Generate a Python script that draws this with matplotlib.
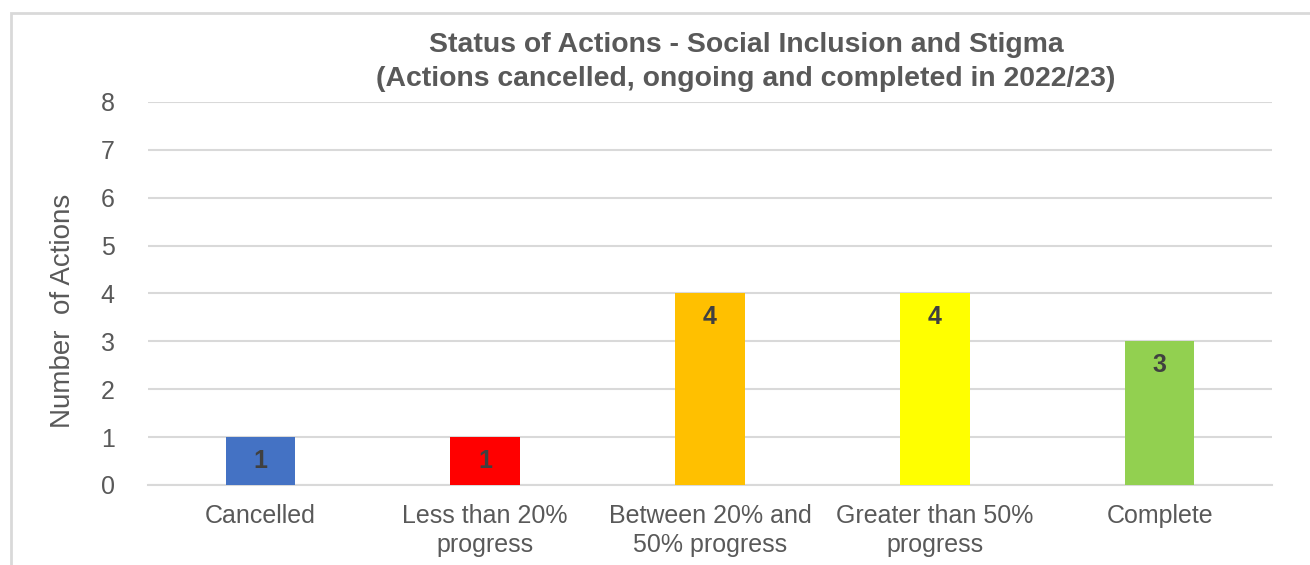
import matplotlib
matplotlib.use('Agg')
import matplotlib.pyplot as plt
from matplotlib.patches import Rectangle

plt.rcParams['font.family'] = ['Liberation Sans', 'DejaVu Sans']

categories = ['Cancelled', 'Less than 20%\nprogress', 'Between 20% and\n50% progress',
              'Greater than 50%\nprogress', 'Complete']
counts = [1, 1, 4, 4, 3]
bar_colors = ['#4472C4', '#FF0000', '#FFC000', '#FFFF00', '#92D050']
title = 'Status of Actions - Social Inclusion and Stigma\n(Actions cancelled, ongoing and completed in 2022/23)'

fig = plt.figure(figsize=(13.1, 5.65), dpi=100)
ax = fig.add_axes([0.113, 0.1416, 0.858, 0.678])

# chart frame (cut off on the right and bottom in the original)
fig.patches.append(Rectangle((11/1310, -0.1), 1.2, 1.1 - 13/565, transform=fig.transFigure,
                             fill=False, edgecolor='#d9d9d9', linewidth=2, zorder=0))

x = range(len(categories))
bars = ax.bar(x, counts, width=0.31, color=bar_colors, zorder=3)

for b, v in zip(bars, counts):
    ax.text(b.get_x() + b.get_width()/2, v - 0.5, str(v), ha='center', va='center',
            fontsize=18, fontweight='bold', color='#404040', zorder=4)

ax.set_xlim(-0.5, len(categories) - 0.5)
ax.set_ylim(0, 8)
ax.set_yticks(range(0, 9))
ax.set_xticks(list(x))
ax.set_xticklabels(categories, fontsize=18, color='#595959', linespacing=1.25)
ax.tick_params(axis='y', labelsize=18, labelcolor='#595959', length=0, pad=24)
ax.tick_params(axis='x', length=0, pad=14)
ax.yaxis.grid(True, color='#d9d9d9', linewidth=1.5, zorder=0)
ax.set_axisbelow(True)
for s in ['top', 'right', 'left']:
    ax.spines[s].set_visible(False)
ax.spines['bottom'].set_color('#d9d9d9')
ax.spines['bottom'].set_linewidth(1.5)

ax.set_ylabel('Number  of Actions', fontsize=20, color='#595959')
ax.yaxis.set_label_coords(-0.064, 0.455)

fig.text(746/1310, 1 - 62/565, title, ha='center', va='center', fontsize=20.4,
         fontweight='bold', color='#595959', linespacing=1.35)

fig.savefig('out.png', dpi=100)
